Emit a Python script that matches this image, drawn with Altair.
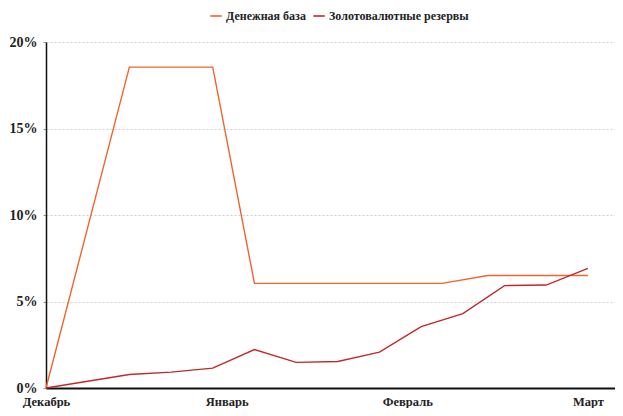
import altair as alt
import pandas as pd

# Data (x in weeks since start of December)
base_weeks = [0, 2, 4, 5, 9.5, 10.6, 13]
base_values = [0, 18.55, 18.55, 6.05, 6.05, 6.5, 6.5]
res_weeks = [0, 2, 3, 4, 5, 6, 7, 8, 9, 10, 11, 12, 13]
res_values = [0, 0.78, 0.92, 1.15, 2.22, 1.48, 1.53, 2.07, 3.55, 4.3, 5.92, 5.95, 6.92]
series_names = ["Денежная база", "Золотовалютные резервы"]
series_colors = ["#f0642e", "#c3282c"]
month_labels = ["Декабрь", "Январь", "Февраль", "Март"]
month_ticks = [0, 13 / 3, 26 / 3, 13]
y_ticks = [0, 5, 10, 15, 20]

rows = []
for w, v in zip(base_weeks, base_values):
    rows.append({"week": w, "value": v, "series": series_names[0]})
for w, v in zip(res_weeks, res_values):
    rows.append({"week": w, "value": v, "series": series_names[1]})
df = pd.DataFrame(rows)

label_array = "[" + ",".join("'" + m + "'" for m in month_labels) + "]"

FONT = "Times New Roman, Liberation Serif, serif"

chart = (
    alt.Chart(df)
    .mark_line(strokeWidth=1.4, clip=False)
    .encode(
        x=alt.X(
            "week:Q",
            scale=alt.Scale(domain=[0, 13.65], nice=False, zero=False),
            axis=alt.Axis(
                values=month_ticks,
                labelExpr=label_array + "[round(datum.value*3/13)]",
                title=None,
                grid=False,
                ticks=False,
                domainColor="#111",
                domainWidth=2,
                labelFont=FONT,
                labelFontWeight="bold",
                labelFontSize=12.5,
                labelColor="#222",
                labelPadding=7,
                labelBaseline="top",
                labelFlush=False,
                labelOverlap=False,
            ),
        ),
        y=alt.Y(
            "value:Q",
            scale=alt.Scale(domain=[0, 20], nice=False),
            axis=alt.Axis(
                values=y_ticks,
                labelExpr="datum.value + '%'",
                title=None,
                grid=True,
                gridColor="#cfcfcf",
                gridDash=[2, 2],
                gridWidth=1,
                ticks=True,
                tickSize=3,
                tickColor="#999",
                domainColor="#111",
                domainWidth=1.5,
                labelFont=FONT,
                labelFontWeight="bold",
                labelFontSize=14,
                labelColor="#222",
                labelPadding=6,
            ),
        ),
        color=alt.Color(
            "series:N",
            scale=alt.Scale(domain=series_names, range=series_colors),
            legend=alt.Legend(
                title=None,
                orient="none",
                legendX=163,
                legendY=-33,
                direction="horizontal",
                symbolType="stroke",
                symbolSize=130,
                symbolStrokeWidth=1.6,
                labelFont=FONT,
                labelFontWeight="bold",
                labelFontSize=12,
                labelColor="#222",
                labelOffset=3,
                columnPadding=4,
            ),
        ),
        order="week:Q",
    )
    .properties(
        width=569,
        height=346,
        padding={"left": 38, "top": 34, "right": 0, "bottom": 20},
        autosize=alt.AutoSizeParams(type="none"),
    )
    .configure_view(stroke=None)
)

chart.save("out.html", embed_options={"renderer": "svg", "actions": False})
